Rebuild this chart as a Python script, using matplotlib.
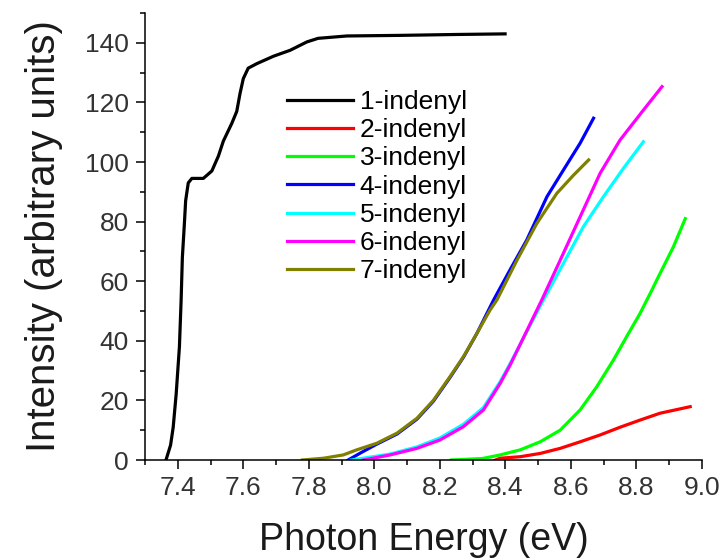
import numpy as np
import matplotlib
matplotlib.use("Agg")
import matplotlib.pyplot as plt

plt.rcParams['font.family'] = ['Liberation Sans', 'DejaVu Sans']

# Photon energy (eV) and intensity for each isomer
x1 = [7.364, 7.378, 7.386, 7.395, 7.405, 7.410, 7.414, 7.420, 7.424, 7.432, 7.443, 7.478,
      7.504, 7.524, 7.539, 7.565, 7.580, 7.590, 7.600, 7.615, 7.641, 7.692, 7.743, 7.794,
      7.828, 7.916, 8.079, 8.25, 8.399]
y1 = [0, 5, 11, 22, 38, 53, 68, 79, 87, 93, 94.5, 94.5,
      97, 102, 107, 113, 117, 123, 128, 131.5, 133, 135.5, 137.5, 140.3,
      141.5, 142.3, 142.5, 142.8, 143]

x2 = [8.37, 8.384, 8.445, 8.506, 8.567, 8.628, 8.689, 8.75, 8.811, 8.872, 8.964]
y2 = [0, 0.6, 1.1, 2.2, 3.9, 6.1, 8.4, 11, 13.4, 15.7, 17.9]

x3 = [8.235, 8.33, 8.384, 8.445, 8.506, 8.567, 8.628, 8.679, 8.73, 8.77, 8.811, 8.847,
      8.862, 8.913, 8.949]
y3 = [0, 0.5, 1.7, 3.4, 6.1, 10, 16.8, 24.6, 33.6, 41.4, 49.2, 57, 60.4, 71.6, 81]

x4 = [7.92, 7.96, 8.007, 8.069, 8.13, 8.18, 8.231, 8.272, 8.313, 8.364, 8.414, 8.465,
      8.527, 8.577, 8.628, 8.669]
y4 = [0, 2.5, 5.3, 8.7, 13.7, 19.7, 27.7, 34.5, 42.5, 53.7, 63.8, 73.8,
      88.4, 97.3, 106.3, 114.7]

x5 = [7.93, 8.048, 8.13, 8.2, 8.272, 8.333, 8.384, 8.415, 8.516, 8.577, 8.638, 8.7,
      8.761, 8.821]
y5 = [0, 2.0, 4.4, 7.4, 12.0, 17.6, 26.3, 32.5, 53.7, 66, 78.3, 88.5, 98, 106.8]

x6 = [7.967, 8.048, 8.13, 8.2, 8.272, 8.333, 8.384, 8.415, 8.511, 8.567, 8.628, 8.689,
      8.75, 8.821, 8.878]
y6 = [0, 1.7, 3.9, 6.7, 11.2, 16.8, 25.7, 32, 53.7, 67, 81.6, 96.2, 107.4, 117.4, 125.3]

x7 = [7.78, 7.845, 7.905, 7.946, 8.007, 8.069, 8.13, 8.18, 8.231, 8.272, 8.313, 8.353,
      8.374, 8.435, 8.496, 8.557, 8.608, 8.654]
y7 = [0, 0.6, 1.7, 3.4, 5.6, 9, 14, 20, 28, 34.7, 42.5, 50.3,
      53.7, 67, 79.4, 89.5, 95.6, 100.7]

labels = ["1-indenyl", "2-indenyl", "3-indenyl", "4-indenyl", "5-indenyl", "6-indenyl", "7-indenyl"]
colors = ["#000000", "#ff0000", "#00ff00", "#0000ff", "#00ffff", "#ff00ff", "#808000"]
xs = [x1, x2, x3, x4, x5, x6, x7]
ys = [y1, y2, y3, y4, y5, y6, y7]

fig = plt.figure(figsize=(7.24, 5.59), dpi=100)
ax = fig.add_axes([0.2003, 0.1771, 0.7693, 0.7996])

for i in range(len(labels)):
    ax.plot(xs[i], ys[i], color=colors[i], lw=2.3, label=labels[i])

ax.set_xlim(7.3, 9.0)
ax.set_ylim(0, 150)
ax.set_xticks(np.arange(7.4, 9.01, 0.2))
ax.set_xticks(np.arange(7.3, 9.01, 0.1), minor=True)
ax.set_yticks(np.arange(0, 141, 20))
ax.set_yticks(np.arange(10, 151, 20), minor=True)
ax.set_xticklabels(["%.1f" % v for v in np.arange(7.4, 9.01, 0.2)])

ax.spines['top'].set_visible(False)
ax.spines['right'].set_visible(False)
ax.spines['left'].set_linewidth(1.1)
ax.spines['bottom'].set_linewidth(1.1)
ax.tick_params(which='major', direction='out', length=6.5, width=1.1, labelsize=19, pad=5,
               labelcolor='#333333')
ax.tick_params(which='minor', direction='out', length=3.8, width=1.1)

ax.set_xlabel("Photon Energy (eV)", fontsize=27, labelpad=16, color='#1a1a1a')
ax.set_ylabel("Intensity (arbitrary units)", fontsize=29, labelpad=16, color='#1a1a1a')

ax.legend(loc='upper left', bbox_to_anchor=(0.255, 0.828), frameon=False, fontsize=19,
          handlelength=2.5, handletextpad=0.25, labelspacing=0.16, borderaxespad=0, borderpad=0)

fig.savefig("out.png", dpi=100)
